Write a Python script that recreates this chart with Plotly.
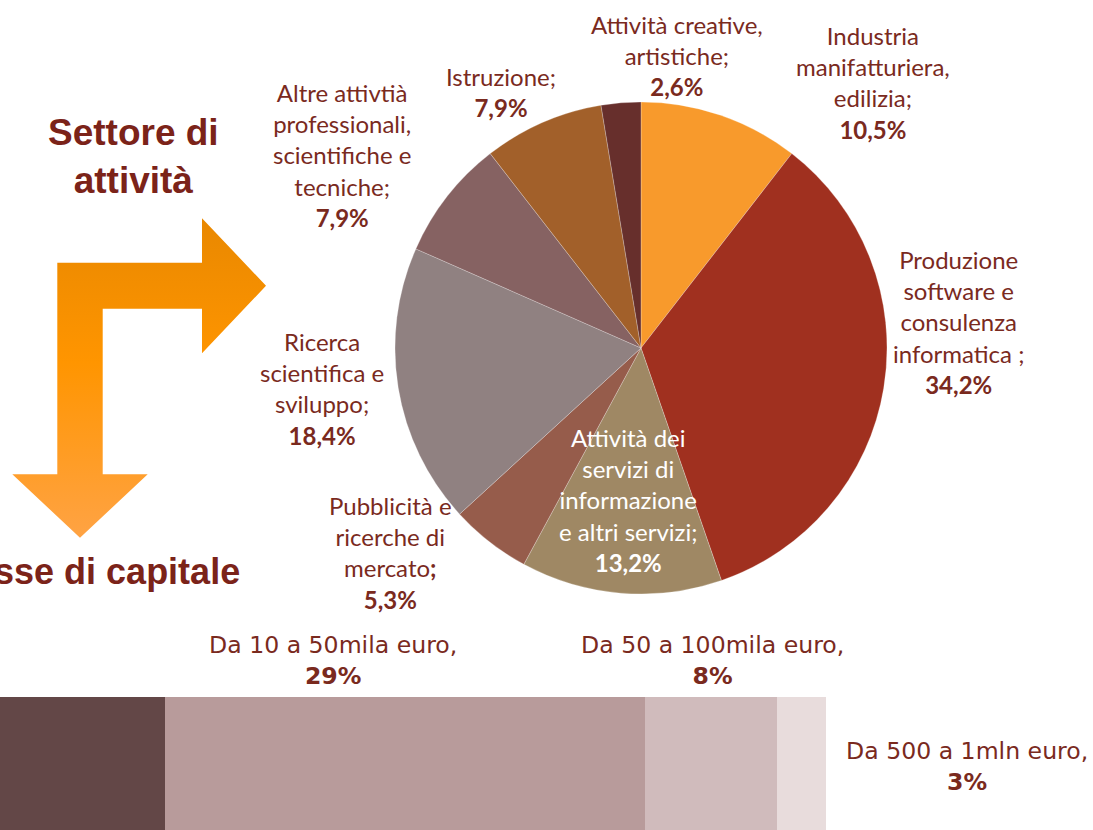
import plotly.graph_objects as go

W, H = 1093, 830

# ---------------- data ----------------
sector_labels = [
    "Industria manifatturiera, edilizia",
    "Produzione software e consulenza informatica",
    "Attività dei servizi di informazione e altri servizi",
    "Pubblicità e ricerche di mercato",
    "Ricerca scientifica e sviluppo",
    "Altre attivtià professionali, scientifiche e tecniche",
    "Istruzione",
    "Attività creative, artistiche",
]
sector_label_lines = [
    ["Industria", "manifatturiera,", "edilizia;"],
    ["Produzione", "software e", "consulenza", "informatica ;"],
    ["Attività dei", "servizi di", "informazione", "e altri servizi;"],
    ["Pubblicità e", "ricerche di", "mercato<b>;</b>"],
    ["Ricerca", "scientifica e", "sviluppo;"],
    ["Altre attivtià", "professionali,", "scientifiche e", "tecniche;"],
    ["Istruzione;"],
    ["Attività creative,", "artistiche;"],
]
sector_values = [10.5, 34.2, 13.2, 5.3, 18.4, 7.9, 7.9, 2.6]

capital_labels = ["Fino a 10mila euro", "Da 10 a 50mila euro", "Da 50 a 100mila euro", "Da 500 a 1mln euro"]
capital_values = [60, 29, 8, 3]

# ---------------- styles ----------------
sector_colors = ["#F89A2C", "#A0301F", "#9F8864", "#965C4B", "#908181", "#866262", "#A2602A", "#672F2C"]
sector_text_colors = ["#7A2A1E"] * 8
sector_text_colors[2] = "#FFFFFF"
capital_colors = ["#634747", "#B89B9B", "#D0BBBC", "#E8DCDC"]
TXT = "#7A2A1E"
TITLE = "#7B2319"

# label anchor positions (pixels) for pie labels, same order as sectors
sector_label_pos = [(873, 83), (958, 322), (628, 500), (390, 552), (322, 389), (342, 155), (501, 92), (677, 56)]
# label anchor positions for capital bar labels (index -> pixel)
capital_label_pos = {1: (333, 660), 2: (712, 660), 3: (967, 766)}


def px(x):
    return x / W


def py(y):
    return 1 - y / H


fig = go.Figure()

# decorative L-shaped arrow (pixel coordinates on hidden overlay axes)
arrow_x = [57.3, 202, 202, 266, 202, 202, 102.7, 102.7, 147.7, 80, 12.3, 57.3, 57.3]
arrow_y = [262.7, 262.7, 218.3, 285.7, 353.3, 308.7, 308.7, 474.3, 474.3, 537.7, 474.3, 474.3, 262.7]
fig.add_trace(go.Scatter(
    x=arrow_x, y=[H - v for v in arrow_y], mode="lines", fill="toself",
    line=dict(width=0, color="rgba(0,0,0,0)"),
    fillgradient=dict(type="vertical", start=H - 218, stop=H - 538,
                      colorscale=[[0, "#E98800"], [0.45, "#FF9500"], [1, "#FFA344"]]),
    hoverinfo="skip", showlegend=False, xaxis="x", yaxis="y",
))

# stacked capital bar
for lab, val, col in zip(capital_labels, capital_values, capital_colors):
    fig.add_trace(go.Bar(
        y=[""], x=[val], orientation="h", name=lab, marker=dict(color=col, line=dict(width=0)),
        xaxis="x2", yaxis="y2", showlegend=False, hoverinfo="name+x",
    ))

# pie
fig.add_trace(go.Pie(
    labels=sector_labels, values=sector_values, sort=False, direction="clockwise", rotation=0,
    marker=dict(colors=sector_colors, line=dict(color="rgba(255,255,255,0.35)", width=0.7)),
    textinfo="none", hoverinfo="label+percent", showlegend=False,
    domain=dict(x=[px(395), px(887)], y=[py(594), py(102)]),
))

annotations = []
for lines, val, col, (ax, ay) in zip(sector_label_lines, sector_values, sector_text_colors, sector_label_pos):
    pct = f"{val:.1f}".replace(".", ",") + "%"
    txt = "<br>".join(lines) + f"<br><b>{pct}</b>"
    annotations.append(dict(
        x=px(ax), y=py(ay), xref="paper", yref="paper", text=txt, showarrow=False,
        xanchor="center", yanchor="middle", align="center",
        font=dict(family="Lato", size=24, color=col),
    ))

for i, (ax, ay) in capital_label_pos.items():
    txt = f"{capital_labels[i]},<br><b>{capital_values[i]}%</b>"
    annotations.append(dict(
        x=px(ax), y=py(ay), xref="paper", yref="paper", text=txt, showarrow=False,
        xanchor="center", yanchor="middle", align="center",
        font=dict(family="DejaVu Sans", size=23.6, color=TXT),
    ))

annotations.append(dict(
    x=px(133), y=py(156), xref="paper", yref="paper", text="<b>Settore di<br>attività</b>",
    showarrow=False, xanchor="center", yanchor="middle", align="center",
    font=dict(family="Liberation Sans", size=37, color=TITLE),
))
annotations.append(dict(
    x=px(242), y=py(571), xref="paper", yref="paper", text="<b>Classe di capitale</b>",
    showarrow=False, xanchor="right", yanchor="middle", align="right",
    font=dict(family="Liberation Sans", size=36, color=TITLE),
))

fig.update_layout(
    width=W, height=H, margin=dict(l=0, r=0, t=0, b=0),
    paper_bgcolor="white", plot_bgcolor="rgba(0,0,0,0)",
    barmode="stack", bargap=0,
    xaxis=dict(domain=[0, 1], range=[0, W], visible=False, fixedrange=True),
    yaxis=dict(domain=[0, 1], range=[0, H], visible=False, fixedrange=True),
    xaxis2=dict(domain=[0, 1], range=[50, 116.14], visible=False, anchor="y2"),
    yaxis2=dict(domain=[0, py(697)], range=[-0.5, 0.5], visible=False, anchor="x2"),
    annotations=annotations,
)

fig.write_html(
    "out.html",
    config={"displayModeBar": False},
    post_script="document.body.style.margin='0';document.body.style.padding='0';document.body.style.overflow='hidden';",
)
